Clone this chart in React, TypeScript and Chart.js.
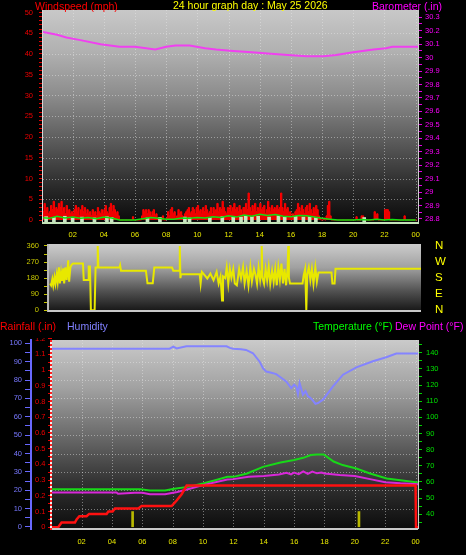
import React, { useEffect, useRef } from 'react';
import { Chart, registerables } from 'chart.js';

Chart.register(...registerables);

const FONT = '"Liberation Sans", Arial, Helvetica, sans-serif';

// ---------------- shared ----------------
const HOUR_TICKS = [2, 4, 6, 8, 10, 12, 14, 16, 18, 20, 22, 24];
const hourLabel = (v: number) => String(Math.round(v) % 24).padStart(2, '0');

// ---------------- top panel: wind speed + barometer ----------------
const WIND_STEP_H = 1 / 12; // 5-minute samples
const windSpeed = [
  3, 2, 4, 2.5, 3, 1.5, 2, 3.5, 2.5, 4.5, 2, 3,
  2.5, 4, 3, 4.5, 2, 3, 1.5, 3.5, 2, 2.5, 1.5, 2,
  1.5, 2.5, 3.5, 2, 3, 1, 2.5, 3.5, 2, 3, 1.5, 2.5,
  1.5, 2, 1, 2.5, 1.5, 2, 1, 3, 2, 1.5, 2.5, 1.5,
  2.5, 3.5, 2, 1.5, 3, 4, 2, 3.5, 2.5, 1.5, 2, 1,
  0, 0, 0, 0, 0, 0, 0, 0, 0, 0, 0.8, 0,
  0, 0, 0, 0, 0, 1, 2.5, 2, 2.5, 1.5, 2.5, 2,
  1, 2, 2.5, 1, 1.5, 0.5, 0, 0.5, 0, 1, 0, 0,
  0.5, 2, 1, 2.5, 3, 1.5, 2, 0.5, 1, 2.5, 1.5, 2,
  1, 0.5, 1.5, 2, 2.5, 3, 1.5, 2, 3, 2.5, 1.5, 3,
  3.5, 2, 2.5, 1.5, 3, 2, 3.5, 2.5, 1.5, 2, 3, 1.5,
  3, 2, 2.5, 4, 2, 3, 2.5, 4.5, 3, 2, 1.5, 3,
  2.5, 3.5, 2, 3, 4, 2.5, 3, 2, 3.5, 2.5, 1.5, 3,
  3, 4, 2.5, 6.5, 3, 2, 3.5, 2.5, 4, 2, 3, 2.5,
  4, 2.5, 3, 3.5, 1.5, 2.5, 4.5, 3, 2, 3.5, 2.5, 3,
  2, 3.5, 2.5, 3, 6.5, 3, 2, 4, 2.5, 3, 1.5, 2,
  0.5, 1.5, 1, 2, 2.5, 4, 3, 2, 3.5, 2.5, 1.5, 3,
  3.5, 2, 4, 2.5, 1.5, 3, 2, 3.5, 2.5, 1, 0.5, 0,
  0, 0.5, 0, 1, 3.5, 4.5, 1, 0, 0, 0, 0, 0,
  0, 0, 0, 0, 0, 0, 0, 0, 0, 0, 0, 0,
  0, 0, 0.8, 0, 0, 0, 1, 1, 0, 0, 0, 0,
  0, 0, 0, 0, 2, 1, 1.5, 0, 0, 0, 0, 0,
  2.5, 2.5, 2.5, 2, 0, 0, 0, 0, 0, 0, 0, 0,
  0, 0, 0, 1, 0, 0, 0, 0, 0, 0, 0, 0,
  0, 0,
];
const WIND_AVG_STEP_H = 0.5;
const windAvg = [
  0.6, 0.4, 0.9, 0.5, 0.7, 0.4, 0.6, 0.3, 0.7, 0.5,
  0, 0, 0, 0.3, 0.6, 0.4, 0.2, 0.2, 0.5, 0.4,
  0.6, 0.5, 0.8, 0.6, 1.0, 0.7, 1.2, 0.9, 1.4, 1.1,
  1.3, 0.9, 0.8, 1.1, 1.0, 0.7, 0.4, 0.2, 0, 0,
  0, 0.1, 0, 0.2, 0, 0.1, 0, 0, 0,
];
const paleHours = [0.3, 0.8, 1.5, 2.0, 2.6, 3.4, 4.2, 4.5, 6.8, 7.6, 9.2, 9.5, 10.8, 11.6, 12.3, 12.8, 13.1, 13.5, 13.9, 14.6, 15.2, 15.6, 16.3, 16.8, 17.2, 17.6, 20.7];
const paleValues = [0.8, 0.6, 0.9, 0.6, 0.7, 0.5, 0.8, 0.6, 0.5, 0.6, 0.7, 0.5, 0.6, 0.8, 0.9, 0.7, 1.0, 0.8, 0.9, 0.7, 1.0, 0.8, 0.9, 0.7, 0.8, 0.6, 0.6];
const baroHours = [0.1, 1, 1.6, 2.5, 3.8, 5.0, 6.0, 7.3, 8.0, 8.6, 9.5, 10.5, 11.2, 12.3, 13.5, 14.5, 15.8, 17, 18.1, 18.9, 20, 21.3, 22.1, 22.5, 23, 24.15];
const baroValues = [30.19, 30.17, 30.15, 30.13, 30.10, 30.08, 30.08, 30.06, 30.08, 30.09, 30.09, 30.07, 30.06, 30.05, 30.04, 30.03, 30.02, 30.01, 30.01, 30.02, 30.04, 30.06, 30.07, 30.08, 30.08, 30.08];
const windTicks = Array.from({ length: 51 }, (_, i) => i);
const baroTicks = Array.from({ length: 31 }, (_, i) => Math.round((28.8 + i * 0.05) * 100) / 100);

// ---------------- middle panel: wind direction ----------------
const dirHours = [0.13, 0.2, 0.28, 0.34, 0.42, 0.48, 0.56, 0.62, 0.7, 0.76, 0.84, 0.9, 0.98, 1.04, 1.12, 1.2, 1.3, 1.36, 1.44, 1.52, 1.62, 2.25, 2.3, 2.58, 2.62, 2.7, 2.76, 3.0, 3.06, 3.16, 3.2, 3.24, 4.6, 4.64, 4.7, 6.3, 6.4, 6.74, 6.84, 7.98, 8.06, 8.44, 8.48, 8.52, 8.56, 9.76, 9.82, 9.9, 10.05, 10.25, 10.45, 10.65, 10.85, 10.98, 11.1, 11.2, 11.26, 11.4, 11.5, 11.6, 11.7, 11.8, 11.92, 12.02, 12.15, 12.3, 12.42, 12.55, 12.65, 12.78, 12.9, 13.02, 13.12, 13.25, 13.35, 13.45, 13.55, 13.65, 13.72, 13.75, 13.8, 13.9, 14.0, 14.1, 14.2, 14.3, 14.42, 14.52, 14.62, 14.72, 14.82, 14.92, 15.02, 15.12, 15.22, 15.32, 15.42, 15.46, 15.5, 15.57, 16.38, 16.45, 16.55, 16.62, 16.68, 16.78, 16.88, 16.98, 17.08, 17.2, 17.3, 17.4, 18.24, 18.3, 18.44, 18.5, 24];
const dirValues = [150, 140, 175, 140, 185, 150, 200, 160, 240, 150, 210, 165, 235, 150, 240, 170, 280, 160, 240, 255, 262, 262, 170, 170, 245, 245, 0, 0, 240, 240, 360, 240, 240, 252, 222, 222, 152, 152, 240, 240, 222, 222, 360, 180, 202, 202, 150, 215, 200, 178, 205, 168, 215, 150, 190, 55, 190, 180, 240, 150, 232, 182, 232, 150, 140, 232, 178, 242, 152, 222, 140, 242, 162, 232, 200, 150, 240, 172, 222, 360, 182, 150, 232, 170, 242, 150, 222, 160, 232, 140, 242, 172, 262, 150, 232, 140, 242, 360, 182, 150, 150, 195, 232, 0, 200, 240, 170, 232, 150, 242, 160, 212, 212, 150, 150, 232, 232];
const dirTicks = [0, 45, 90, 135, 180, 225, 270, 315, 360];
const compassTicks = [0, 90, 180, 270, 360];
const compassLabels = ['N', 'E', 'S', 'W', 'N'];

// ---------------- bottom panel: rain, humidity, temperature, dew point ----------------
const humHours = [0.05, 2, 4, 6, 7.8, 8.04, 8.26, 8.9, 10, 11.55, 11.77, 11.97, 12.5, 12.83, 13.29, 13.73, 13.95, 14.17, 14.5, 14.82, 15.1, 15.48, 15.81, 16.0, 16.14, 16.25, 16.36, 16.58, 16.75, 16.91, 17.05, 17.24, 17.4, 17.57, 17.9, 18.23, 18.56, 19.22, 20.1, 21.19, 22.07, 22.73, 24.16];
const humValues = [97.1, 97.1, 97.0, 97.1, 97.1, 98.2, 97.2, 98.4, 98.4, 98.4, 97.5, 97.0, 96.8, 96.4, 94.6, 90.0, 86.4, 84.6, 84.0, 83.2, 81.5, 79.2, 75.6, 77.5, 76.5, 72.5, 78.4, 72.0, 74.0, 71.1, 70.5, 68.8, 67.0, 67.5, 69.3, 72.9, 76.5, 82.9, 86.9, 90.2, 92.4, 94.4, 94.4];
const tempHours = [0.05, 3, 5.85, 6.5, 7.5, 8.1, 9.0, 10.0, 10.8, 11.6, 12.0, 12.9, 13.95, 15.1, 16.0, 16.6, 17.1, 17.5, 17.95, 18.6, 19.2, 20.1, 21.0, 22.1, 23.0, 24.16];
const tempValues = [55.5, 55.5, 55.5, 54.6, 54.6, 55.8, 56.9, 59.0, 61.0, 63.1, 63.1, 65.2, 69.3, 72.0, 73.5, 74.9, 76.6, 77.0, 77.0, 72.6, 70.4, 68.3, 65.2, 62.1, 61.0, 59.6];
const dewHours = [0.05, 3, 4.3, 4.4, 5.5, 6.0, 6.5, 7.5, 8.3, 9.0, 10.0, 11.6, 12.0, 13.0, 14.0, 15.0, 15.5, 15.8, 16.0, 16.3, 16.6, 16.9, 17.2, 17.5, 17.8, 18.0, 19.0, 20.0, 21.0, 22.0, 23.0, 24.16];
const dewValues = [53.4, 53.4, 53.4, 52.6, 53.2, 53.2, 52.4, 52.4, 53.7, 55.4, 58.0, 61.5, 61.7, 63.1, 63.7, 64.6, 65.6, 64.6, 65.8, 64.8, 66.5, 65.0, 66.4, 65.3, 65.8, 65.2, 64.2, 63.7, 61.7, 59.8, 59.1, 58.6];
const rainHours = [0.05, 0.46, 0.68, 1.56, 1.67, 1.85, 2.33, 2.5, 3.65, 3.76, 4.04, 4.2, 5.73, 5.95, 7.93, 8.26, 8.59, 8.92, 24.0, 24.03, 24.16];
const rainValues = [0, 0, 0.03, 0.03, 0.05, 0.07, 0.07, 0.085, 0.085, 0.1, 0.1, 0.12, 0.12, 0.135, 0.135, 0.17, 0.21, 0.265, 0.265, 0, 0];
const rainRateHours = [5.36, 20.27];
const rainRateValues = [0.1, 0.1];
const humTicks = Array.from({ length: 21 }, (_, i) => i * 5);
const rainTicks = Array.from({ length: 25 }, (_, i) => Math.round(i * 5) / 100);
const tempTicks = Array.from({ length: 23 }, (_, i) => 35 + i * 5);

// ---------------- helpers ----------------
const pts = (xs: number[], ys: number[]) => xs.map((x, i) => ({ x, y: ys[i] }));
const seq = (ys: number[], step: number) => ys.map((y, i) => ({ x: i * step, y }));
const fixedTicks = (vals: number[]) => (a: any) => {
  a.ticks = vals.map((v) => ({ value: v }));
};
const fit = (w?: number, h?: number) => (s: any) => {
  if (w !== undefined) s.width = w;
  if (h !== undefined) s.height = h;
  s.paddingTop = 0;
  s.paddingBottom = 0;
  s.paddingLeft = 0;
  s.paddingRight = 0;
};
const tickFont = { family: FONT, size: 7.5 };

type Stops = [number, string][];
function panelPlugin(id: string, stops: Stops, grid: { v?: number[]; hAxis?: string; h?: number[] }, frame: (ctx: CanvasRenderingContext2D, a: any) => void) {
  return {
    id,
    beforeDraw(chart: any) {
      const { ctx, chartArea: a } = chart;
      ctx.save();
      const g = ctx.createLinearGradient(0, a.top, 0, a.bottom);
      stops.forEach(([o, c]) => g.addColorStop(o, c));
      ctx.fillStyle = g;
      ctx.fillRect(a.left, a.top, a.right - a.left, a.bottom - a.top);
      ctx.strokeStyle = 'rgba(235,235,235,0.45)';
      ctx.lineWidth = 1;
      ctx.setLineDash([1, 2]);
      if (grid.v) {
        const xs = chart.scales.x;
        grid.v.forEach((v) => {
          const px = Math.round(xs.getPixelForValue(v)) + 0.5;
          ctx.beginPath();
          ctx.moveTo(px, a.top);
          ctx.lineTo(px, a.bottom);
          ctx.stroke();
        });
      }
      if (grid.h && grid.hAxis) {
        const ys = chart.scales[grid.hAxis];
        grid.h.forEach((v) => {
          const py = Math.round(ys.getPixelForValue(v)) + 0.5;
          ctx.beginPath();
          ctx.moveTo(a.left, py);
          ctx.lineTo(a.right, py);
          ctx.stroke();
        });
      }
      ctx.restore();
    },
    afterDatasetsDraw(chart: any) {
      const { ctx, chartArea: a } = chart;
      ctx.save();
      frame(ctx, a);
      ctx.restore();
    },
  };
}

const baseOptions = {
  animation: false as const,
  responsive: false,
  devicePixelRatio: 1,
  events: [] as any[],
  plugins: { legend: { display: false }, tooltip: { enabled: false } },
};

function topConfig(): any {
  return {
    type: 'line',
    data: {
      datasets: [
        { label: 'Barometer', data: pts(baroHours, baroValues), yAxisID: 'yBaro', borderColor: '#f040f0', borderWidth: 2, pointRadius: 0 },
        { label: 'Wind avg', data: seq(windAvg, WIND_AVG_STEP_H), yAxisID: 'yWind', borderColor: '#10e010', borderWidth: 1.5, pointRadius: 0 },
        { type: 'bar', label: 'Pale', data: pts(paleHours, paleValues), yAxisID: 'yWind', backgroundColor: '#c8e6c0', barThickness: 3, base: -0.72 },
        { label: 'Windspeed', data: seq(windSpeed, WIND_STEP_H), yAxisID: 'yWind', borderColor: '#ff0000', backgroundColor: '#ee0000', borderWidth: 1, pointRadius: 0, stepped: true, fill: 'origin' },
      ],
    },
    options: {
      ...baseOptions,
      layout: { padding: { top: 10, left: 0, right: 0, bottom: 0 } },
      scales: {
        x: {
          type: 'linear', min: 0.1, max: 24.15, offset: false,
          afterBuildTicks: fixedTicks(HOUR_TICKS), afterFit: fit(undefined, 17),
          grid: { display: false, drawTicks: false, offset: false }, border: { display: false },
          ticks: { color: '#e8e800', font: tickFont, padding: 7, maxRotation: 0, autoSkip: false, callback: (v: number) => hourLabel(v) },
        },
        yWind: {
          type: 'linear', position: 'left', min: -0.72, max: 50.6,
          afterBuildTicks: fixedTicks(windTicks), afterFit: fit(43),
          grid: { drawOnChartArea: false, color: '#e00000', tickColor: '#e00000', tickLength: 4 }, border: { display: false },
          ticks: { color: '#ee0000', font: tickFont, padding: 6, autoSkip: false, callback: (v: number) => (v % 5 === 0 ? String(v) : '') },
        },
        yBaro: {
          type: 'linear', position: 'right', min: 28.77, max: 30.354,
          afterBuildTicks: fixedTicks(baroTicks), afterFit: fit(48),
          grid: { drawOnChartArea: false, color: '#e000e0', tickColor: '#e000e0', tickLength: 4 }, border: { display: false },
          ticks: {
            color: '#ff00ff', font: tickFont, padding: 3, autoSkip: false,
            callback: (v: number) => (Math.round(v * 100) % 10 === 0 ? String(Math.round(v * 10) / 10) : ''),
          },
        },
      },
    },
    plugins: [
      panelPlugin('topPanel', [[0, '#c8c8c8'], [0.2, '#b0b0b0'], [0.4, '#8c8c8c'], [0.55, '#6a6a6a'], [0.7, '#484848'], [0.85, '#262626'], [1, '#0a0a0a']],
        { v: HOUR_TICKS, hAxis: 'yWind', h: [5, 10, 15, 20, 25, 30, 35, 40, 45] },
        (ctx, a) => {
          ctx.fillStyle = '#d8d8d8';
          ctx.fillRect(a.left - 1, a.top, 1, a.bottom - a.top);
          ctx.fillStyle = '#d0d0d0';
          ctx.fillRect(a.right, a.top, 1, a.bottom - a.top);
          ctx.fillStyle = '#c4e4b8';
          ctx.fillRect(a.left - 1, a.bottom - 1, a.right - a.left + 2, 2);
        }),
    ],
  };
}

function midConfig(): any {
  return {
    type: 'line',
    data: {
      datasets: [
        { label: 'Wind direction', data: pts(dirHours, dirValues), yAxisID: 'yDir', borderColor: '#e8e800', borderWidth: 2, pointRadius: 0 },
      ],
    },
    options: {
      ...baseOptions,
      layout: { padding: { top: 6, left: 0, right: 0, bottom: 6 } },
      scales: {
        x: { type: 'linear', min: 0, max: 24, display: false, offset: false },
        yDir: {
          type: 'linear', position: 'left', min: -9.5, max: 371,
          afterBuildTicks: fixedTicks(dirTicks), afterFit: fit(48),
          grid: { drawOnChartArea: false, color: '#c8c800', tickColor: '#c8c800', tickLength: 4 }, border: { display: false },
          ticks: { color: '#c8c800', font: tickFont, padding: 5, autoSkip: false, callback: (v: number) => (v % 90 === 0 ? String(v) : '') },
        },
        yCompass: {
          type: 'linear', position: 'right', min: -9.5, max: 371,
          afterBuildTicks: fixedTicks(compassTicks), afterFit: fit(45),
          grid: { display: false, drawTicks: false }, border: { display: false },
          ticks: { color: '#ffff00', font: { family: FONT, size: 11.5 }, padding: 14, autoSkip: false, callback: (v: number) => compassLabels[compassTicks.indexOf(v)] },
        },
      },
    },
    plugins: [
      panelPlugin('midPanel', [[0, '#cccccc'], [0.35, '#a0a0a0'], [0.7, '#505050'], [1, '#141414']], {},
        (ctx, a) => {
          ctx.fillStyle = '#b8b8b8';
          ctx.fillRect(a.left - 1, a.top, 2, a.bottom - a.top);
          ctx.fillStyle = '#c8c8c8';
          ctx.fillRect(a.left, a.bottom - 2, a.right - a.left, 2);
        }),
    ],
  };
}

function botConfig(): any {
  return {
    type: 'line',
    data: {
      datasets: [
        { label: 'Rainfall', data: pts(rainHours, rainValues), yAxisID: 'yRain', borderColor: '#ff1010', borderWidth: 2.5, pointRadius: 0 },
        { label: 'Dew Point', data: pts(dewHours, dewValues), yAxisID: 'yTemp', borderColor: '#d828d8', borderWidth: 2, pointRadius: 0 },
        { label: 'Temperature', data: pts(tempHours, tempValues), yAxisID: 'yTemp', borderColor: '#18d818', borderWidth: 2, pointRadius: 0 },
        { label: 'Humidity', data: pts(humHours, humValues), yAxisID: 'yHum', borderColor: '#8484ff', borderWidth: 2, pointRadius: 0 },
        { type: 'bar', label: 'Rain rate', data: pts(rainRateHours, rainRateValues), yAxisID: 'yRain', backgroundColor: '#b8b800', barThickness: 2 },
      ],
    },
    options: {
      ...baseOptions,
      layout: { padding: { top: 2, left: 0, right: 0, bottom: 0 } },
      scales: {
        x: {
          type: 'linear', min: 0.05, max: 24.16, offset: false,
          afterBuildTicks: fixedTicks(HOUR_TICKS), afterFit: fit(undefined, 26),
          grid: { display: false, drawTicks: false, offset: false }, border: { display: false },
          ticks: { color: '#e8e800', font: tickFont, padding: 8, maxRotation: 0, autoSkip: false, callback: (v: number) => hourLabel(v) },
        },
        yHum: {
          type: 'linear', position: 'left', weight: 1, min: -1.1, max: 101.8,
          afterBuildTicks: fixedTicks(humTicks), afterFit: fit(31),
          grid: { drawOnChartArea: false, color: '#6868ff', tickColor: '#6868ff', tickLength: 6 },
          border: { display: true, color: '#6868ff', width: 2 },
          ticks: { color: '#7878ff', font: tickFont, padding: 3, autoSkip: false, callback: (v: number) => (v % 10 === 0 ? String(v) : '') },
        },
        yRain: {
          type: 'linear', position: 'left', weight: 0, min: -0.011, max: 1.191,
          afterBuildTicks: fixedTicks(rainTicks), afterFit: fit(21),
          grid: { drawOnChartArea: false, color: '#e00000', tickColor: '#e00000', tickLength: 4 }, border: { display: false },
          ticks: {
            color: '#ee0000', font: tickFont, padding: 2.5, autoSkip: false,
            callback: (v: number) => (Math.round(v * 100) % 10 === 0 ? String(Math.round(v * 10) / 10) : ''),
          },
        },
        yTemp: {
          type: 'linear', position: 'right', min: 30.8, max: 147.9,
          afterBuildTicks: fixedTicks(tempTicks), afterFit: fit(48),
          grid: { drawOnChartArea: false, color: '#00d000', tickColor: '#00d000', tickLength: 4 }, border: { display: false },
          ticks: { color: '#00e000', font: tickFont, padding: 4, autoSkip: false, callback: (v: number) => (v % 10 === 0 ? String(v) : '') },
        },
      },
    },
    plugins: [
      panelPlugin('botPanel', [[0, '#cacaca'], [0.25, '#a2a2a2'], [0.5, '#6c6c6c'], [0.75, '#333333'], [1, '#0c0c0c']],
        { v: HOUR_TICKS, hAxis: 'yHum', h: [10, 20, 30, 40, 50, 60, 70, 80, 90] },
        (ctx, a) => {
          ctx.fillStyle = '#f0f0f0';
          ctx.fillRect(a.left - 2, a.top, 2, a.bottom - a.top);
          ctx.fillStyle = '#ff2020';
          for (let y = a.top; y < a.bottom; y += 4) ctx.fillRect(a.left - 2, y, 2, 2);
          ctx.fillStyle = '#d0d0d0';
          ctx.fillRect(a.right, a.top, 1, a.bottom - a.top);
          ctx.fillStyle = '#c8c8c8';
          ctx.fillRect(a.left, a.bottom - 1, a.right - a.left, 2);
        }),
    ],
  };
}

const textStyle = (left: number, top: number, color: string): React.CSSProperties => ({
  position: 'absolute', left, top, color, fontFamily: FONT, fontSize: 10.5, lineHeight: '12px', whiteSpace: 'nowrap',
});

export default function App() {
  const topRef = useRef<HTMLCanvasElement>(null);
  const midRef = useRef<HTMLCanvasElement>(null);
  const botRef = useRef<HTMLCanvasElement>(null);

  useEffect(() => {
    const charts = [
      new Chart(topRef.current as HTMLCanvasElement, topConfig()),
      new Chart(midRef.current as HTMLCanvasElement, midConfig()),
      new Chart(botRef.current as HTMLCanvasElement, botConfig()),
    ];
    return () => charts.forEach((c) => c.destroy());
  }, []);

  return (
    <div style={{ position: 'absolute', left: 0, top: 0, width: 466, height: 555, background: '#000', overflow: 'hidden' }}>
      <canvas ref={topRef} width={466} height={240} style={{ position: 'absolute', left: 0, top: 0, width: 466, height: 240 }} />
      <canvas ref={midRef} width={466} height={80} style={{ position: 'absolute', left: 0, top: 238, width: 466, height: 80 }} />
      <canvas ref={botRef} width={466} height={217} style={{ position: 'absolute', left: 0, top: 338, width: 466, height: 217 }} />
      <span style={textStyle(35, 0, '#ff0000')}>Windspeed (mph)</span>
      <span style={textStyle(173, -1, '#ffff00')}>24 hour graph day : May 25 2026</span>
      <span style={textStyle(372, 0, '#ff00ff')}>Barometer (.in)</span>
      <span style={textStyle(0, 320, '#ff0000')}>Rainfall (.in)</span>
      <span style={textStyle(67, 320, '#8080ff')}>Humidity</span>
      <span style={textStyle(313, 320, '#00ff00')}>Temperature (°F)</span>
      <span style={textStyle(395, 320, '#ff00ff')}>Dew Point (°F)</span>
    </div>
  );
}
